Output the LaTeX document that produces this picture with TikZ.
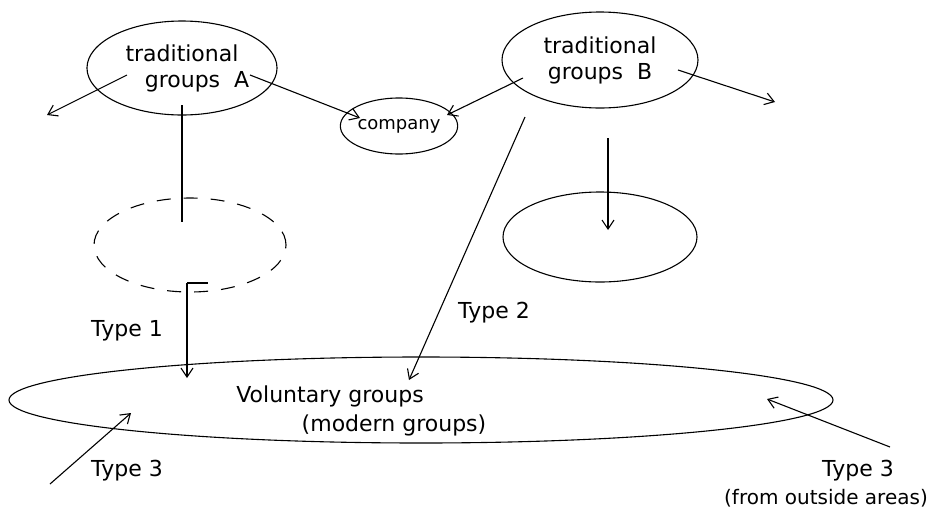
\documentclass[tikz,border=0pt]{standalone}
\usepackage{fontspec}
\setmainfont{DejaVu Sans}
\usetikzlibrary{arrows.meta,shapes.geometric}
\begin{document}
\begin{tikzpicture}[x=1pt,y=-1pt,
  line width=1.1pt,
  group/.style={draw,ellipse,inner sep=0pt,align=center,
    font=\fontsize{22}{26}\selectfont},
  lbl/.style={inner sep=0pt,font=\fontsize{22}{26}\selectfont},
  flow/.style={-{Straight Barb[length=9pt,width=12pt,line width=1.1pt]}},
  plain/.style={}]
\useasboundingbox (0,0) rectangle (938,512);

% groups
\node[group,minimum width=190pt,minimum height=94pt] (A) at (182,68)
  {traditional\\\hspace*{30pt}groups\ \ A};
\node[group,minimum width=196pt,minimum height=96pt] (B) at (600,60)
  {traditional\\groups\ \ B};
\node[group,minimum width=112pt,minimum height=56pt,
  font=\fontsize{18}{20}\selectfont] (C) at (399,126) {company};
\node[draw,ellipse,dash pattern=on 14pt off 13pt,
  minimum width=192pt,minimum height=94pt] (D) at (190,245) {};
\node[draw,ellipse,minimum width=194pt,minimum height=90pt] (E) at (600,237) {};
\node[draw,ellipse,minimum width=824pt,minimum height=86pt] (V) at (421,400) {};

% labels
\node[lbl] (v1) at (330,396) {Voluntary groups};
\node[lbl] (v2) at (394,425) {(modern groups)};
\node[lbl] (t1) at (127,331) {Type 1};
\node[lbl] (t2) at (494,313) {Type 2};
\node[lbl] (t3l) at (127,471) {Type 3};
\node[lbl] (t3r) at (858,471) {Type 3};
\node[lbl,font=\fontsize{20}{24}\selectfont] (t3o) at (826,498) {(from outside areas)};

% connector ends
\coordinate (a1) at (127,75);  \coordinate (a1e) at (47,115);
\coordinate (a2) at (250,75);  \coordinate (a2e) at (360,118);
\coordinate (b1) at (523,78);  \coordinate (b1e) at (447,115);
\coordinate (b2) at (678,70);  \coordinate (b2e) at (775,102);
\coordinate (a3) at (182,105); \coordinate (a3e) at (182,222);
\coordinate (d1) at (187,283); \coordinate (d1e) at (187,378);
\coordinate (d1t) at (208,283);
\coordinate (b3) at (525,117); \coordinate (b3e) at (409,380);
\coordinate (b4) at (608,138); \coordinate (b4e) at (608,230);
\coordinate (o1) at (50,484);  \coordinate (o1e) at (131,413);
\coordinate (o2) at (890,447); \coordinate (o2e) at (767,399);

% connectors
\draw[flow] (a1) -- (a1e);
\draw[flow] (a2) -- (a2e);
\draw[flow] (b1) -- (b1e);
\draw[flow] (b2) -- (b2e);
\draw[plain] (a3) -- (a3e);
\draw[plain] (d1) -- (d1t);
\draw[flow] (d1) -- (d1e);
\draw[flow] (b3) -- (b3e);
\draw[flow] (b4) -- (b4e);
\draw[flow] (o1) -- (o1e);
\draw[flow] (o2) -- (o2e);
\end{tikzpicture}
\end{document}
